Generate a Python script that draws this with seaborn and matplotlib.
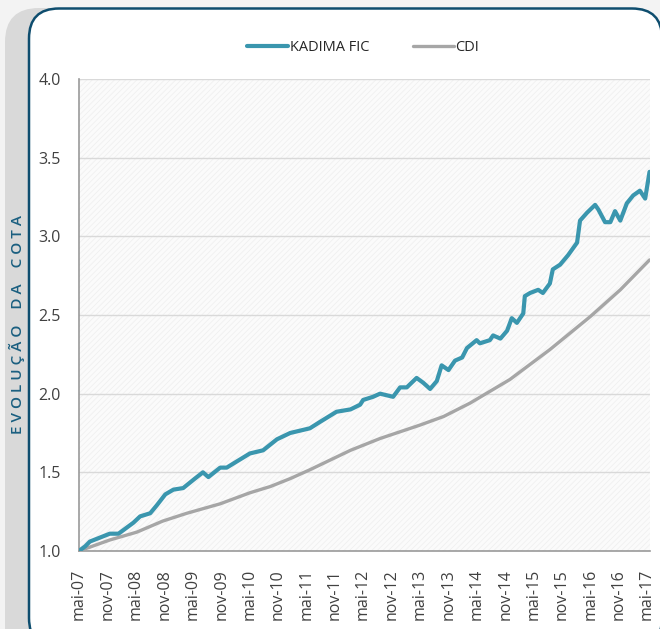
import numpy as np
import pandas as pd
import matplotlib
matplotlib.use('Agg')
from matplotlib import pyplot as plt
from matplotlib.patches import FancyBboxPatch, Rectangle
import seaborn as sns

# values
kadima_dates = ['2007-05-01', '2007-06-10', '2007-07-10', '2007-11-15', '2008-01-10',
                '2008-04-15', '2008-05-28', '2008-08-01', '2008-09-12', '2008-11-06',
                '2008-12-28', '2009-03-01', '2009-05-15', '2009-07-06', '2009-08-10',
                '2009-10-25', '2009-12-06', '2010-02-10', '2010-05-04', '2010-07-28',
                '2010-10-25', '2011-01-18', '2011-05-25', '2011-07-28', '2011-11-12',
                '2012-02-10', '2012-04-12', '2012-05-01', '2012-07-04', '2012-08-18',
                '2012-11-10', '2012-12-25', '2013-02-06', '2013-04-10', '2013-05-22',
                '2013-07-06', '2013-08-18', '2013-09-18', '2013-11-01', '2013-12-13',
                '2014-01-28', '2014-02-28', '2014-05-01', '2014-05-22', '2014-07-25',
                '2014-08-15', '2014-10-01', '2014-11-13', '2014-12-13', '2015-01-15',
                '2015-02-25', '2015-03-07', '2015-04-10', '2015-06-01', '2015-07-01',
                '2015-08-15', '2015-09-03', '2015-10-20', '2015-12-10', '2016-02-06',
                '2016-02-25', '2016-04-10', '2016-06-01', '2016-06-22', '2016-08-04',
                '2016-09-07', '2016-10-07', '2016-11-10', '2016-12-22', '2017-02-01',
                '2017-03-16', '2017-04-19', '2017-05-17']
kadima_vals = [1.00, 1.03, 1.06, 1.11, 1.11,
               1.18, 1.22, 1.24, 1.29, 1.36,
               1.39, 1.40, 1.46, 1.50, 1.47,
               1.53, 1.53, 1.57, 1.62, 1.64,
               1.71, 1.75, 1.78, 1.82, 1.885,
               1.90, 1.93, 1.96, 1.98, 2.00,
               1.98, 2.04, 2.04, 2.10, 2.07,
               2.03, 2.08, 2.18, 2.15, 2.21,
               2.23, 2.29, 2.34, 2.32, 2.34,
               2.37, 2.35, 2.40, 2.48, 2.45,
               2.51, 2.62, 2.64, 2.66, 2.64,
               2.70, 2.79, 2.82, 2.88, 2.96,
               3.10, 3.15, 3.20, 3.17, 3.09,
               3.09, 3.16, 3.10, 3.21, 3.26,
               3.29, 3.24, 3.41]

cdi_dates = ['2007-05-01', '2007-11-15', '2008-05-07', '2008-10-20', '2009-03-25',
             '2009-10-25', '2010-05-04', '2010-09-13', '2011-01-18', '2011-05-22',
             '2012-02-10', '2012-08-18', '2013-05-01', '2013-10-01', '2014-03-20',
             '2014-12-01', '2015-08-15', '2016-05-01', '2016-11-10', '2017-05-17']
cdi_vals = [1.00, 1.07, 1.12, 1.19, 1.24,
            1.30, 1.37, 1.41, 1.46, 1.515,
            1.64, 1.715, 1.80, 1.855, 1.94,
            2.09, 2.28, 2.49, 2.66, 2.85]

series_names = ['KADIMA FIC', 'CDI']
y_ticks = [1.0, 1.5, 2.0, 2.5, 3.0, 3.5, 4.0]
month_abbr = {5: 'mai', 11: 'nov'}

sns.set_theme(style='white')
plt.rcParams['font.family'] = ['Open Sans', 'DejaVu Sans']
plt.rcParams['hatch.linewidth'] = 0.6

W, H = 6.6, 6.29
fig = plt.figure(figsize=(W, H), dpi=100)
fig.patch.set_facecolor('#f3f3f3')

# grey band behind the card + white card with dark blue border (inches)
band = FancyBboxPatch((0.05, -0.4), 1.2, H + 0.4 - 0.08,
                      boxstyle='round,pad=0,rounding_size=0.34',
                      transform=fig.dpi_scale_trans, facecolor='#d9d9d9',
                      edgecolor='none', zorder=-3)
card = FancyBboxPatch((0.29, -0.19), 6.33, H + 0.19 - 0.085,
                      boxstyle='round,pad=0,rounding_size=0.3',
                      transform=fig.dpi_scale_trans, facecolor='white',
                      edgecolor='#0e4d6e', linewidth=1.8, zorder=-2)
fig.patches.extend([band, card])

ax = fig.add_axes([79 / 660, 1 - 551 / 629, (650 - 79) / 660, (551 - 79) / 629])
ax.set_facecolor('#fbfbfb')
ax.add_patch(Rectangle((0, 0), 1, 1, transform=ax.transAxes, facecolor='none',
                       edgecolor='#f0f0f0', hatch='//////', linewidth=0, zorder=0))

kd = pd.DataFrame({'date': pd.to_datetime(kadima_dates), 'val': kadima_vals})
cd = pd.DataFrame({'date': pd.to_datetime(cdi_dates), 'val': cdi_vals})

sns.lineplot(data=cd, x='date', y='val', ax=ax, color='#a6a6a6', linewidth=2.4,
             label=series_names[1], zorder=3)
sns.lineplot(data=kd, x='date', y='val', ax=ax, color='#3a96ae', linewidth=3,
             label=series_names[0], zorder=4)

ax.set_ylim(1.0, 4.0)
ax.set_yticks(y_ticks)
ax.set_yticklabels(['%.1f' % t for t in y_ticks])
ax.set_xlim(pd.Timestamp('2007-05-01'), pd.Timestamp('2017-05-20'))
xt = pd.date_range('2007-05-01', '2017-05-01', freq='6MS')
ax.set_xticks(xt)
ax.set_xticklabels(['%s-%02d' % (month_abbr[d.month], d.year % 100) for d in xt],
                   rotation=90)

ax.grid(axis='y', color='#d9d9d9', linewidth=1)
ax.set_axisbelow(True)
for s in ['top', 'right']:
    ax.spines[s].set_visible(False)
for s in ['left', 'bottom']:
    ax.spines[s].set_color('#9a9a9a')
    ax.spines[s].set_linewidth(1.2)
ax.tick_params(axis='both', direction='out', length=5, width=1, color='#9a9a9a',
               labelcolor='#404040')
ax.tick_params(axis='y', labelsize=11.5, pad=8)
ax.tick_params(axis='x', labelsize=11.5, pad=8)
ax.set_xlabel('')
ax.set_ylabel('')

handles, labels = ax.get_legend_handles_labels()
order = [labels.index(n) for n in series_names]
ax.legend([handles[i] for i in order], [labels[i] for i in order],
          loc='center', bbox_to_anchor=(0.55, 0.924), bbox_transform=fig.transFigure,
          ncol=2, frameon=False, fontsize=10.5, handlelength=2.8,
          handletextpad=0.1, columnspacing=3.0)

fig.text(17 / 660, 1 - 325 / 629, 'E V O L U Ç Ã O    D A    C O T A', rotation=90,
         ha='center', va='center', color='#1a5f80', fontsize=11, fontweight='semibold')

fig.savefig('out.png', dpi=100, facecolor=fig.get_facecolor())
